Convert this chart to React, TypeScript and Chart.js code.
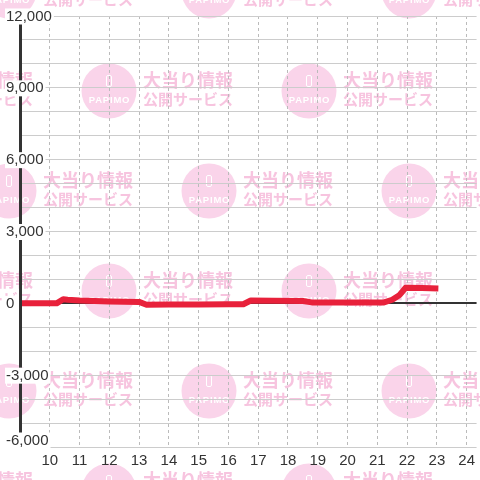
import React, { useEffect, useRef } from 'react';
import { Chart, registerables } from 'chart.js';

Chart.register(...registerables);

// Hours of the day (x) and running balance (y)
const HOURS = [9.0, 10.23, 10.45, 10.6, 11.0, 12.0, 13.0, 13.25, 14.0, 15.0, 16.0, 16.5, 16.75, 17.5, 18.5, 18.8, 20.0, 21.2, 21.5, 21.75, 21.95, 22.5, 23.05];
const BALANCE = [0, 0, 170, 150, 120, 80, 60, -60, -50, -50, -40, -40, 120, 110, 100, 40, 30, 30, 150, 350, 650, 640, 620];

const X_TICKS = [10, 11, 12, 13, 14, 15, 16, 17, 18, 19, 20, 21, 22, 23, 24];
const Y_GRID = [-6000, -5000, -4000, -3000, -2000, -1000, 0, 1000, 2000, 3000, 4000, 5000, 6000, 7000, 8000, 9000, 10000, 11000, 12000];
const Y_LABELS = [-6000, -3000, 0, 3000, 6000, 9000, 12000];

const X_MIN = 9;
const X_MAX = 24.333;
const Y_MIN = -6000;
const Y_MAX = 12000;

const WM_ROWS = [-9, 91, 191, 291, 391, 491];
const WM_LINE1 = '大当り情報';
const WM_LINE2 = '公開サービス';
const WM_BRAND = 'PAPIMO';

const LABEL_FONT = '15px "Liberation Sans", Arial, sans-serif';

const watermarkPlugin = {
  id: 'watermark',
  beforeDraw(chart: any) {
    const ctx = chart.ctx as CanvasRenderingContext2D;
    ctx.save();
    ctx.fillStyle = '#ffffff';
    ctx.fillRect(0, 0, chart.width, chart.height);
    WM_ROWS.forEach((cy, r) => {
      const offset = r % 2 === 0 ? 9 : 109;
      for (let cx = offset - 200; cx < chart.width + 60; cx += 200) {
        ctx.fillStyle = 'rgb(250,212,234)';
        ctx.beginPath();
        ctx.arc(cx, cy, 27.5, 0, Math.PI * 2);
        ctx.fill();
        // phone icon
        ctx.strokeStyle = '#ffffff';
        ctx.lineWidth = 1;
        ctx.beginPath();
        (ctx as any).roundRect(cx - 2.5, cy - 15.5, 5, 11, 1.5);
        ctx.stroke();
        // brand
        ctx.fillStyle = '#ffffff';
        ctx.font = 'bold 9.5px "Liberation Sans", Arial, sans-serif';
        (ctx as any).letterSpacing = '0.8px';
        ctx.textAlign = 'center';
        ctx.textBaseline = 'middle';
        ctx.fillText(WM_BRAND, cx + 0.5, cy + 9);
        (ctx as any).letterSpacing = '0px';
        // text
        ctx.fillStyle = 'rgb(247,196,223)';
        ctx.textAlign = 'left';
        ctx.font = 'bold 18px "Noto Sans CJK JP", sans-serif';
        ctx.fillText(WM_LINE1, cx + 34, cy - 11);
        ctx.font = 'bold 15px "Noto Sans CJK JP", sans-serif';
        ctx.fillText(WM_LINE2, cx + 34, cy + 8);
      }
    });
    ctx.restore();
  },
};

const yLabelPlugin = {
  id: 'yLabels',
  afterDraw(chart: any) {
    const ctx = chart.ctx as CanvasRenderingContext2D;
    const y = chart.scales.y;
    const bottom = chart.chartArea.bottom;
    ctx.save();
    ctx.font = LABEL_FONT;
    ctx.textAlign = 'left';
    ctx.textBaseline = 'middle';
    Y_LABELS.forEach((v) => {
      const text = v.toLocaleString('en-US');
      const py = Math.min(y.getPixelForValue(v) + 0.5, bottom - 6.5);
      const w = ctx.measureText(text).width;
      ctx.fillStyle = '#ffffff';
      ctx.fillRect(5, py - 8, w + 3, 16);
      ctx.fillStyle = '#333333';
      ctx.fillText(text, 6, py);
    });
    ctx.restore();
  },
};

export default function App() {
  const ref = useRef<HTMLCanvasElement | null>(null);

  useEffect(() => {
    if (!ref.current) return;
    const chart = new Chart(ref.current, {
      type: 'line',
      data: {
        datasets: [
          {
            data: HOURS.map((h, i) => ({ x: h, y: BALANCE[i] })),
            borderColor: '#e8213b',
            borderWidth: 6,
            pointRadius: 0,
            tension: 0,
            fill: false,
            borderJoinStyle: 'round',
          },
        ],
      },
      options: {
        animation: false,
        responsive: false,
        maintainAspectRatio: false,
        layout: { padding: { left: 20, top: 16, right: 0, bottom: 0 } },
        plugins: { legend: { display: false }, tooltip: { enabled: false } },
        scales: {
          x: {
            type: 'linear',
            min: X_MIN,
            max: X_MAX,
            afterBuildTicks: (scale: any) => {
              scale.ticks = X_TICKS.map((v) => ({ value: v }));
            },
            afterFit: (scale: any) => {
              scale.height = 33;
            },
            grid: { color: '#bbbbbb', lineWidth: 1, drawTicks: false },
            border: { display: false, dash: [3, 3] },
            ticks: {
              padding: 5,
              color: '#333333',
              font: { family: '"Liberation Sans", Arial, sans-serif', size: 15 },
              maxRotation: 0,
              autoSkip: false,
              callback: (v: any) => String(v),
            },
          },
          y: {
            type: 'linear',
            min: Y_MIN,
            max: Y_MAX,
            afterBuildTicks: (scale: any) => {
              scale.ticks = Y_GRID.map((v) => ({ value: v }));
            },
            afterFit: (scale: any) => {
              scale.width = 0;
            },
            grid: {
              drawTicks: false,
              color: (c: any) => (c.tick && c.tick.value === 0 ? '#333333' : '#cccccc'),
              lineWidth: (c: any) => (c.tick && c.tick.value === 0 ? 2 : 1),
            },
            border: { display: true, color: '#333333', width: 3, z: 1 },
            ticks: { display: false },
          },
        },
      },
      plugins: [watermarkPlugin, yLabelPlugin],
    } as any);
    return () => chart.destroy();
  }, []);

  return (
    <div style={{ position: 'absolute', left: 0, top: 0, width: 480, height: 480 }}>
      <canvas ref={ref} width={480} height={480} style={{ display: 'block' }} />
    </div>
  );
}
